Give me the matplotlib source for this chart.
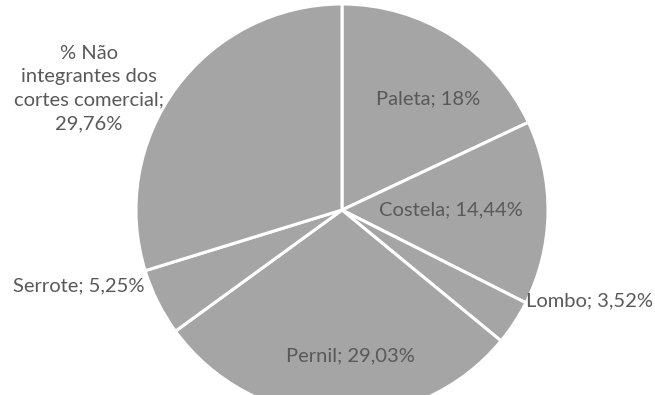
import matplotlib.pyplot as plt

# cortes e participação (%)
cortes = ['Paleta', 'Costela', 'Lombo', 'Pernil', 'Serrote',
          '% Não\nintegrantes dos\ncortes comercial']
valores = [18, 14.44, 3.52, 29.03, 5.25, 29.76]

# posição dos rótulos (coordenadas do eixo, raio = 1)
pos_rotulos = [(0.42, 0.54), (0.53, 0.0), (1.20, -0.44),
               (0.04, -0.71), (-1.28, -0.37), (-1.228, 0.59)]

plt.rcParams['font.family'] = ['Lato', 'DejaVu Sans']

cx, cy, r = 342, 210, 206  # centro e raio da pizza em pixels
fig = plt.figure(figsize=(6.55, 3.95), dpi=100)
ax = fig.add_axes([(cx - r) / 655, (395 - cy - r) / 395, 2 * r / 655, 2 * r / 395])
ax.pie(valores, startangle=90, counterclock=False, radius=1,
       colors=['#a5a5a5'] * len(valores),
       wedgeprops=dict(edgecolor='white', linewidth=2.2))
ax.set_xlim(-1, 1); ax.set_ylim(-1, 1)
ax.set_aspect('auto')
ax.axis('off')

for nome, v, (x, y) in zip(cortes, valores, pos_rotulos):
    num = ('%g' % v).replace('.', ',') + '%'
    txt = nome + (';\n' if '\n' in nome else '; ') + num
    ax.text(x, y, txt, ha='center', va='center', fontsize=14.5,
            color='#595959', linespacing=1.45, clip_on=False)

fig.savefig('out.png', dpi=100)
